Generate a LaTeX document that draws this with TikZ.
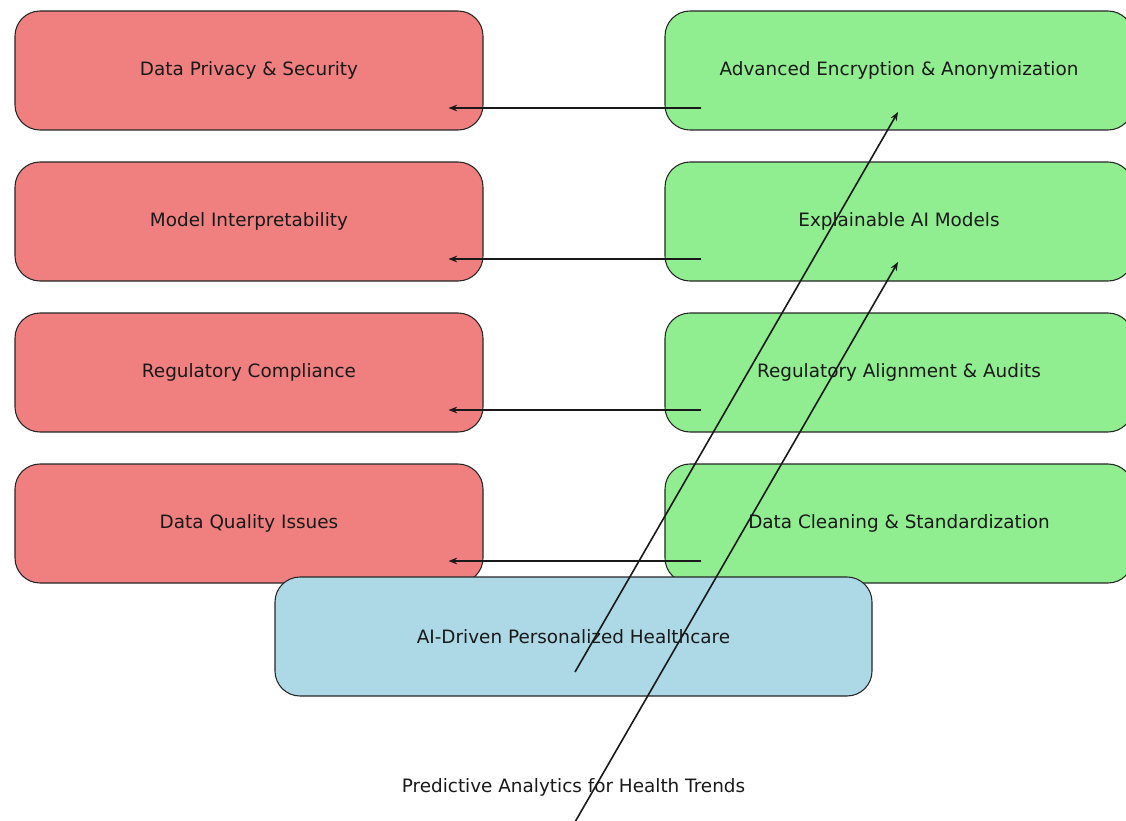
\documentclass[tikz,border=0pt]{standalone}
\usepackage{fontspec}
\setmainfont{DejaVu Sans}
\usetikzlibrary{arrows.meta,calc}
\definecolor{lcoral}{HTML}{F08080}
\definecolor{lgreen}{HTML}{90EE90}
\definecolor{lblue}{HTML}{ADD8E6}
\tikzset{
  box/.style={draw=black!85, line width=0.8pt, rounded corners=18.75pt,
    minimum width=351pt, minimum height=89.25pt, inner sep=0pt,
    font=\fontsize{13.8}{16}\selectfont, text=black!90},
  redbox/.style={box, fill=lcoral},
  greenbox/.style={box, fill=lgreen},
  bluebox/.style={box, fill=lblue, minimum width=447.75pt},
  plain/.style={font=\fontsize{13.8}{16}\selectfont, text=black!90, inner sep=0pt},
  arr/.style={line width=1.2pt, black!90, -{Stealth[length=6.5pt,width=5pt]}}
}
\begin{document}
\begin{tikzpicture}[x=0.75pt,y=-0.75pt]
\useasboundingbox (0,0) rectangle (1126,820);
\clip (0,0) rectangle (1126,820);
\node[redbox] (r1) at (249,70.5) {Data Privacy \& Security};
\node[redbox] (r2) at (249,221.5) {Model Interpretability};
\node[redbox] (r3) at (249,372.5) {Regulatory Compliance};
\node[redbox] (r4) at (249,523.5) {Data Quality Issues};
\node[greenbox] (g1) at (899,70.5) {Advanced Encryption \& Anonymization};
\node[greenbox] (g2) at (899,221.5) {Explainable AI Models};
\node[greenbox] (g3) at (899,372.5) {Regulatory Alignment \& Audits};
\node[greenbox] (g4) at (899,523.5) {Data Cleaning \& Standardization};
\node[bluebox] (b) at (573.5,636.5) {AI-Driven Personalized Healthcare};
\node[plain] (p) at (573.5,787) {Predictive Analytics for Health Trends};
\foreach \i in {1,2,3,4}{
  \draw[arr] ($(g\i.west)+(37,37.5)$) -- ($(r\i.east)+(-35,37.5)$);
}
\draw[arr] ($(b.center)+(1.5,35.5)$) -- ($(g1.center)+(-1,41.5)$);
\draw[arr] ($(p.center)+(1.5,35)$) -- ($(g2.center)+(-1,40.5)$);
\end{tikzpicture}
\end{document}
